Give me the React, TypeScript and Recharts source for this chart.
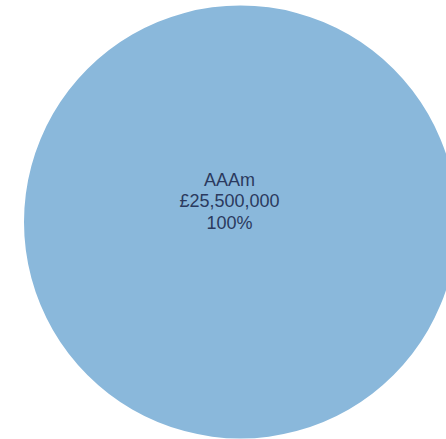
import React from "react";
import { PieChart, Pie, Cell } from "recharts";

const categories: string[] = ["AAAm"];
const values: number[] = [25500000];
const colors: string[] = ["#8ab8db"];

const data = categories.map((name, i) => ({ name, value: values[i] }));
const total = values.reduce((a, b) => a + b, 0);

const fmt = (v: number) => "£" + v.toLocaleString("en-GB");

const renderLabel = (props: any) => {
  const { cx, cy, name, value } = props;
  const x = cx - 11;
  const pct = Math.round((value / total) * 100) + "%";
  return (
    <text
      x={x}
      y={cy - 36.5}
      textAnchor="middle"
      fill="#2b3a5e"
      fontFamily="'Liberation Sans', Arial, sans-serif"
      fontSize={18}
    >
      <tspan x={x} dy={0}>{name}</tspan>
      <tspan x={x} dy={21.5}>{fmt(value)}</tspan>
      <tspan x={x} dy={21.5}>{pct}</tspan>
    </text>
  );
};

export default function App() {
  return (
    <div
      style={{
        position: "fixed",
        left: 0,
        top: 0,
        width: 446,
        height: 439,
        overflow: "hidden",
        background: "#fff",
      }}
    >
      <PieChart width={481} height={444} margin={{ top: 0, right: 0, bottom: 0, left: 0 }}>
        <Pie
          data={data}
          dataKey="value"
          nameKey="name"
          cx={240.5}
          cy={222}
          outerRadius={216.5}
          innerRadius={0}
          startAngle={90}
          endAngle={-270}
          stroke="none"
          label={renderLabel}
          labelLine={false}
          isAnimationActive={false}
        >
          {data.map((d, i) => (
            <Cell key={d.name} fill={colors[i % colors.length]} />
          ))}
        </Pie>
      </PieChart>
    </div>
  );
}
